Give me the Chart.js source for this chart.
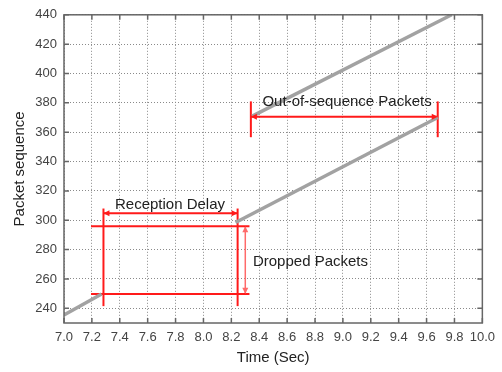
<!DOCTYPE html>
<html>
<head>
<meta charset="utf-8">
<script src="https://cdn.jsdelivr.net/npm/chart.js@4.4.0/dist/chart.umd.min.js"></script>
<style>
  html, body { margin: 0; padding: 0; background: #fff; }
  #wrap { width: 502px; height: 372px; }
</style>
</head>
<body>
<div id="wrap"><canvas id="seqChart" width="502" height="372"></canvas></div>
<script>
// tick labels
const xTicks = [7.0, 7.2, 7.4, 7.6, 7.8, 8.0, 8.2, 8.4, 8.6, 8.8, 9.0, 9.2, 9.4, 9.6, 9.8, 10.0];
const yTicks = [240, 260, 280, 300, 320, 340, 360, 380, 400, 420, 440];

// received packets (time, sequence)
const firstTime = [7.0, 7.27];
const firstSeq = [235.5, 249.7];
const lowerTime = [8.23, 9.68];
const lowerSeq = [298.5, 370];
const upperTime = [8.35, 9.78];
const upperSeq = [371, 440];

// annotation lines (time, sequence)
const delayLeftTime = [7.283, 7.283];
const delayRightTime = [8.245, 8.245];
const delayMarkerSeq = [241.5, 308];
const delayArrowTime = [7.283, 8.245];
const delayArrowSeq = [304.8, 304.8];
const dropTopSeq = [296, 296];
const dropBottomSeq = [249.7, 249.7];
const dropLineTime = [7.194, 8.33];
const dropArrowTime = [8.30, 8.30];
const dropArrowSeq = [250, 296];
const oosLeftTime = [8.34, 8.34];
const oosRightTime = [9.68, 9.68];
const oosMarkerSeq = [356.6, 381];
const oosArrowTime = [8.34, 9.68];
const oosArrowSeq = [370.6, 370.6];

const labelTexts = ['Reception Delay', 'Dropped Packets', 'Out-of-sequence Packets'];
const labelTime = [7.76, 8.355, 9.03];
const labelSeq = [310.7, 271.4, 380.5];
const labelAlign = ['center', 'left', 'center'];

const fontFamily = '"Liberation Sans", Arial, sans-serif';

function pts(xs, ys) {
    return xs.map((x, i) => ({ x: x, y: ys[i] }));
}

function packetSets(xs, ys) {
    return [
        { data: pts(xs, ys), borderColor: '#a2a2a2', borderWidth: 3.5, pointRadius: 0, showLine: true },
        { data: pts(xs, ys), borderColor: '#f0f0f0', borderWidth: 1.2, borderDash: [2, 2], pointRadius: 0, showLine: true }
    ];
}

function redLine(xs, ys, opts) {
    return Object.assign({
        data: pts(xs, ys),
        borderColor: '#ff1a1a',
        borderWidth: 2,
        pointRadius: 0,
        showLine: true,
        clip: false
    }, opts || {});
}

const frameTicks = {
    id: 'frameTicks',
    afterDatasetsDraw(chart) {
        const { ctx, chartArea, scales } = chart;
        const { left, right, top, bottom } = chartArea;
        ctx.save();

        // arrowheads
        chart.data.datasets.forEach((ds, i) => {
            if (!ds.arrows) return;
            const pe = chart.getDatasetMeta(i).data;
            const a = pe[0], b = pe[pe.length - 1];
            const ang = Math.atan2(b.y - a.y, b.x - a.x);
            ctx.fillStyle = ds.borderColor;
            [[b, ang], [a, ang + Math.PI]].forEach(([p, t]) => {
                ctx.beginPath();
                ctx.moveTo(p.x, p.y);
                ctx.lineTo(p.x - 6 * Math.cos(t) + 3 * Math.sin(t), p.y - 6 * Math.sin(t) - 3 * Math.cos(t));
                ctx.lineTo(p.x - 6 * Math.cos(t) - 3 * Math.sin(t), p.y - 6 * Math.sin(t) + 3 * Math.cos(t));
                ctx.closePath();
                ctx.fill();
            });
        });

        // frame
        ctx.strokeStyle = '#666';
        ctx.lineWidth = 1.5;
        ctx.strokeRect(left, top, right - left, bottom - top);

        // inward ticks
        ctx.beginPath();
        xTicks.forEach(v => {
            const px = scales.x.getPixelForValue(v);
            ctx.moveTo(px, bottom); ctx.lineTo(px, bottom - 5);
            ctx.moveTo(px, top); ctx.lineTo(px, top + 5);
        });
        yTicks.forEach(v => {
            const py = scales.y.getPixelForValue(v);
            ctx.moveTo(left, py); ctx.lineTo(left + 5, py);
            ctx.moveTo(right, py); ctx.lineTo(right - 5, py);
        });
        ctx.stroke();

        // annotation text
        ctx.fillStyle = '#222';
        ctx.font = '15px ' + fontFamily;
        ctx.textBaseline = 'middle';
        labelTexts.forEach((t, i) => {
            ctx.textAlign = labelAlign[i];
            ctx.fillText(t, scales.x.getPixelForValue(labelTime[i]), scales.y.getPixelForValue(labelSeq[i]));
        });
        ctx.restore();
    }
};

new Chart(document.querySelector('#seqChart'), {
    type: 'scatter',
    data: {
        datasets: [
            ...packetSets(firstTime, firstSeq),
            ...packetSets(lowerTime, lowerSeq),
            ...packetSets(upperTime, upperSeq),
            redLine(dropLineTime, dropTopSeq),
            redLine(dropLineTime, dropBottomSeq),
            redLine(delayLeftTime, delayMarkerSeq),
            redLine(delayRightTime, delayMarkerSeq),
            redLine(delayArrowTime, delayArrowSeq, { arrows: true }),
            redLine(dropArrowTime, dropArrowSeq, { arrows: true, borderColor: '#ff6a6a', borderWidth: 1.5 }),
            redLine(oosLeftTime, oosMarkerSeq),
            redLine(oosRightTime, oosMarkerSeq),
            redLine(oosArrowTime, oosArrowSeq, { arrows: true })
        ]
    },
    options: {
        responsive: false,
        animation: false,
        layout: { padding: { top: 13, right: 14, left: 0, bottom: 0 } },
        plugins: {
            legend: { display: false },
            tooltip: { enabled: false }
        },
        scales: {
            x: {
                type: 'linear',
                min: 7,
                max: 10,
                afterBuildTicks: scale => { scale.ticks = xTicks.map(v => ({ value: v })); },
                afterFit: scale => { scale.height = 49; },
                grid: { color: '#8a8a8a', lineWidth: 1, drawTicks: false },
                border: { display: false, dash: [1, 2] },
                ticks: {
                    color: '#444',
                    padding: 7,
                    maxRotation: 0,
                    autoSkip: false,
                    font: { family: fontFamily, size: 13 },
                    callback: v => v.toFixed(1)
                },
                title: {
                    display: true,
                    text: 'Time (Sec)',
                    color: '#222',
                    font: { family: fontFamily, size: 15 },
                    padding: { top: 0, bottom: 5 }
                }
            },
            y: {
                type: 'linear',
                min: 230,
                max: 440,
                afterBuildTicks: scale => { scale.ticks = yTicks.map(v => ({ value: v })); },
                afterFit: scale => { scale.width = 64; },
                grid: { color: '#8a8a8a', lineWidth: 1, drawTicks: false },
                border: { display: false, dash: [1, 2] },
                ticks: {
                    color: '#444',
                    padding: 7,
                    autoSkip: false,
                    font: { family: fontFamily, size: 13 }
                },
                title: {
                    display: true,
                    text: 'Packet sequence',
                    color: '#222',
                    font: { family: fontFamily, size: 15 },
                    padding: { top: 11, bottom: 0 }
                }
            }
        }
    },
    plugins: [frameTicks]
});
</script>
</body>
</html>
